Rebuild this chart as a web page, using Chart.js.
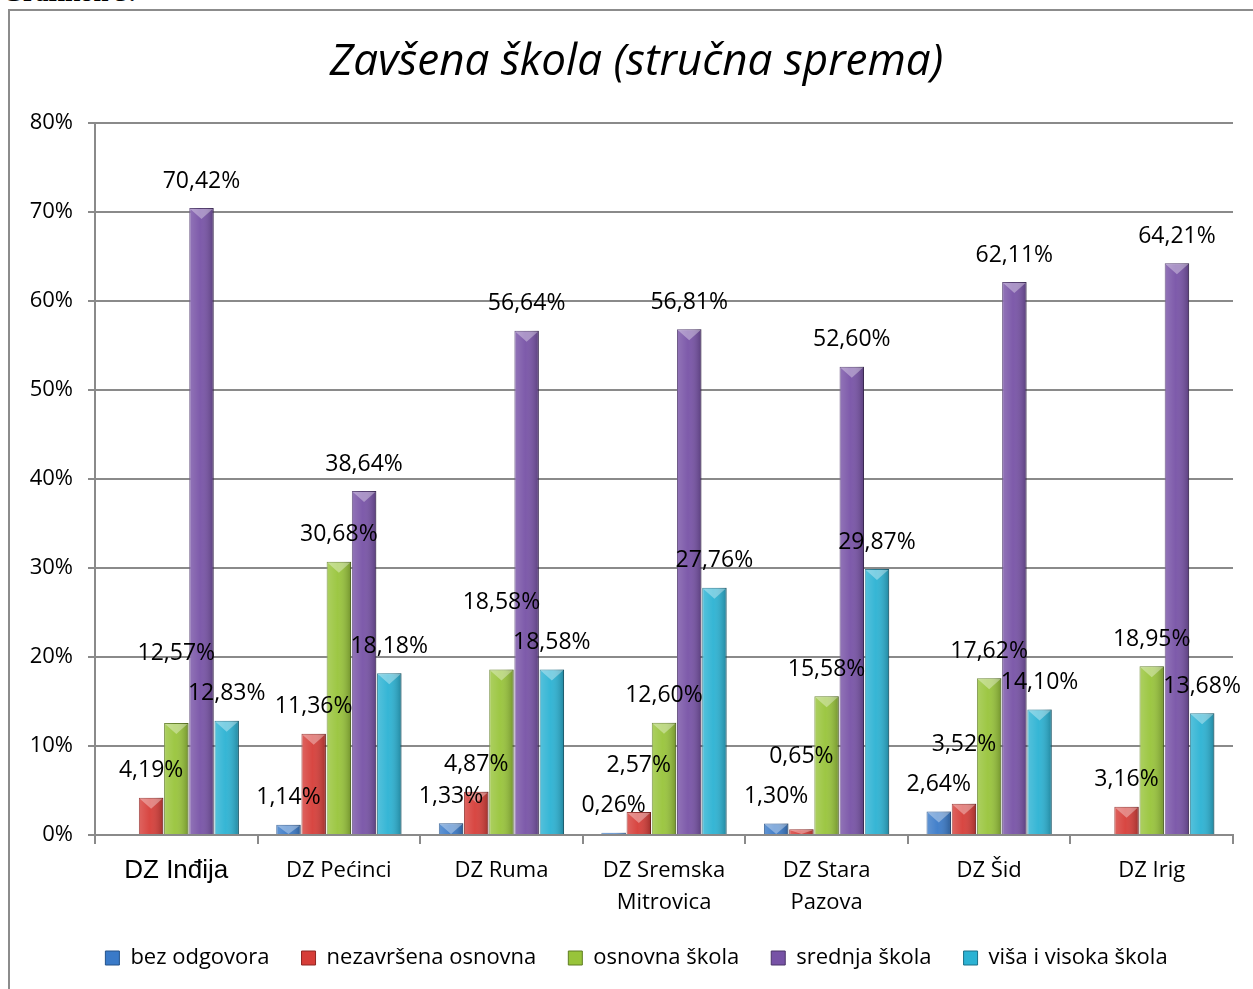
<!DOCTYPE html>
<html>
<head>
<meta charset="utf-8">
<script src="https://cdn.jsdelivr.net/npm/chart.js@4.4.0/dist/chart.umd.min.js"></script>
<style>
html, body { margin:0; padding:0; background:#fff; overflow:hidden; }
#page { position:relative; width:1253px; height:989px; }
#cap { position:absolute; left:2px; top:-23px; font:bold 27px "Liberation Serif"; color:#000; }
#frame { position:absolute; left:8px; top:9px; width:1300px; height:1000px; border:2px solid #8c8c8c; }
#wrap { position:absolute; left:0; top:0; width:1253px; height:989px; }
</style>
</head>
<body>
<div id="page">
  <div id="cap">Grafikon 3.</div>
  <div id="frame"></div>
  <div id="wrap"><canvas id="chart"></canvas></div>
</div>
<script>
// podaci sa grafikona (u %)
const categories = ['DZ Inđija', 'DZ Pećinci', 'DZ Ruma', ['DZ Sremska', 'Mitrovica'], ['DZ Stara', 'Pazova'], 'DZ Šid', 'DZ Irig'];
const seriesNames = ['bez odgovora', 'nezavršena osnovna', 'osnovna škola', 'srednja škola', 'viša i visoka škola'];
const bezOdgovora = [0, 1.14, 1.33, 0.26, 1.30, 2.64, 0];
const nezavrsenaOsnovna = [4.19, 11.36, 4.87, 2.57, 0.65, 3.52, 3.16];
const osnovnaSkola = [12.57, 30.68, 18.58, 12.60, 15.58, 17.62, 18.95];
const srednjaSkola = [70.42, 38.64, 56.64, 56.81, 52.60, 62.11, 64.21];
const visaVisoka = [12.83, 18.18, 18.58, 27.76, 29.87, 14.10, 13.68];
const yTicks = [0, 10, 20, 30, 40, 50, 60, 70, 80];

const colors = ['#3a7ac8', '#d63d38', '#98c43a', '#7752a6', '#2bb2d3'];
const edges = ['#24528a', '#8e2622', '#5f7d22', '#4b3469', '#1b7189'];
const series = [bezOdgovora, nezavrsenaOsnovna, osnovnaSkola, srednjaSkola, visaVisoka];

const fmt = v => v.toFixed(2).replace('.', ',') + '%';
const FONT = '"Open Sans"';

// sjencenje stubica (3D izgled) + oznake vrijednosti
const barDeco = {
    id: 'barDeco',
    afterDatasetsDraw(chart) {
        const ctx = chart.ctx;
        ctx.save();
        chart.data.datasets.forEach((ds, di) => {
            chart.getDatasetMeta(di).data.forEach(el => {
                const p = el.getProps(['x', 'y', 'base', 'width'], true);
                const left = p.x - p.width / 2, top = Math.min(p.y, p.base), h = Math.abs(p.base - p.y);
                if (h <= 0) return;
                const g = ctx.createLinearGradient(left, 0, left + p.width, 0);
                g.addColorStop(0, 'rgba(255,255,255,0.20)');
                g.addColorStop(0.45, 'rgba(255,255,255,0.05)');
                g.addColorStop(1, 'rgba(0,0,0,0.25)');
                ctx.fillStyle = g;
                ctx.fillRect(left, top, p.width, h);
                const bh = Math.min(11, h);
                ctx.beginPath();
                ctx.moveTo(left + 1, top + 1);
                ctx.lineTo(left + p.width - 1, top + 1);
                ctx.lineTo(p.x, top + bh);
                ctx.closePath();
                ctx.fillStyle = 'rgba(255,255,255,0.35)';
                ctx.fill();
            });
        });

        // labele: redoslijed kao u Excelu, preklapanja se pomjeraju nagore
        ctx.font = '23px ' + FONT;
        ctx.fillStyle = '#000';
        ctx.textAlign = 'center';
        ctx.textBaseline = 'middle';
        const order = [0, 4, 3, 1, 2];
        categories.forEach((c, i) => {
            const placed = [];
            order.forEach(di => {
                const v = chart.data.datasets[di].data[i];
                if (!v) return;
                const el = chart.getDatasetMeta(di).data[i];
                const txt = fmt(v);
                const w = ctx.measureText(txt).width;
                let y = el.y - 27;
                let moved = true;
                while (moved) {
                    moved = false;
                    for (const q of placed) {
                        if (Math.abs(q.x - el.x) < (q.w + w) / 2 && Math.abs(q.y - y) < 22) {
                            y = q.y - 40; moved = true;
                        }
                    }
                }
                placed.push({ x: el.x, y, w });
                ctx.fillText(txt, el.x, y);
            });
        });
        ctx.restore();
    }
};

new Chart(document.getElementById('chart'), {
    type: 'bar',
    data: {
        labels: categories,
        datasets: series.map((d, i) => ({
            label: seriesNames[i],
            data: d,
            backgroundColor: colors[i],
            borderColor: edges[i],
            borderWidth: 1,
            categoryPercentage: 0.775,
            barPercentage: 0.97
        }))
    },
    options: {
        responsive: true,
        maintainAspectRatio: false,
        animation: false,
        layout: { padding: { left: 20, right: 0, top: 0, bottom: 10 } },
        plugins: {
            title: {
                display: true,
                text: 'Zavšena škola (stručna sprema)',
                color: '#000',
                font: { family: FONT, size: 44, style: 'italic', weight: 'normal' },
                padding: { top: 36, bottom: 34 }
            },
            legend: {
                position: 'bottom',
                labels: { color: '#000', font: { family: FONT, size: 22 }, boxWidth: 14, boxHeight: 14, padding: 32 }
            },
            tooltip: { enabled: false }
        },
        scales: {
            x: {
                afterFit: s => { s.height = 80; },
                grid: { drawOnChartArea: false, drawTicks: true, tickLength: 9, color: '#8a8a8a', lineWidth: 2 },
                border: { color: '#8a8a8a', width: 2 },
                ticks: {
                    color: '#000', padding: 11, maxRotation: 0, autoSkip: false,
                    font: c => c.index === 0 ? { family: 'Liberation Sans', size: 26 } : { family: FONT, size: 22, lineHeight: 1.45 }
                }
            },
            y: {
                min: 0, max: 80,
                afterFit: s => { s.width = 75; },
                afterBuildTicks: s => { s.ticks = yTicks.map(v => ({ value: v })); },
                grid: { color: '#8a8a8a', lineWidth: 2, tickLength: 7 },
                border: { color: '#8a8a8a', width: 2 },
                ticks: { color: '#000', padding: 15, font: { family: FONT, size: 22 }, callback: v => v + '%' }
            },
            yr: {
                type: 'linear',
                position: 'right',
                afterFit: s => { s.width = 20; },
                grid: { display: false },
                border: { display: false },
                ticks: { display: false }
            }
        }
    },
    plugins: [barDeco]
});
</script>
</body>
</html>
